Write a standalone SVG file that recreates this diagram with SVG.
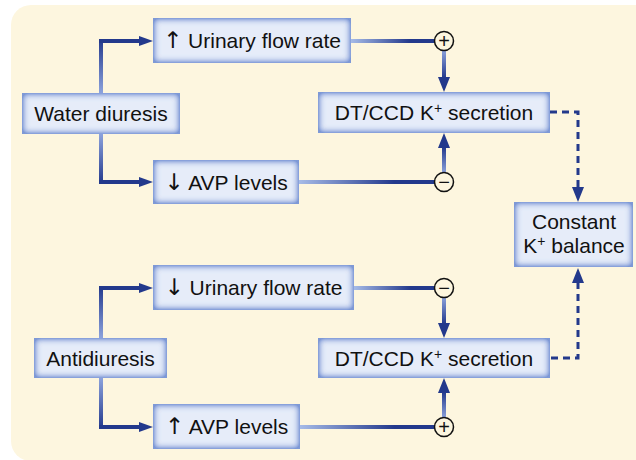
<svg xmlns="http://www.w3.org/2000/svg" width="636" height="460" viewBox="0 0 636 460">
<defs>
<style>
.box{fill:#E6ECF9;filter:url(#bevel);}
.lbl{font-family:"Liberation Sans",Arial,sans-serif;font-size:21px;fill:#111;text-anchor:middle;}
.arr{font-family:"DejaVu Sans","Liberation Sans",sans-serif;font-size:23px;}
.sym{font-family:"Liberation Sans",Arial,sans-serif;font-size:20px;fill:#111;text-anchor:middle;}
.navy{fill:#23398C;}
.circ{fill:#FDF6DF;stroke:#111;stroke-width:1.5;}
.dash{fill:none;stroke:#23398C;stroke-width:3;stroke-dasharray:7 5;}
</style>
<filter id="bevel" x="0" y="0" width="1" height="1" color-interpolation-filters="sRGB">
<feFlood flood-color="#7E99D6" result="c"/>
<feGaussianBlur in="SourceAlpha" stdDeviation="3.5" result="b"/>
<feComposite in="c" in2="b" operator="out" result="e"/>
<feComponentTransfer in="e" result="e2"><feFuncA type="linear" slope="2"/></feComponentTransfer>
<feComposite in="e2" in2="SourceAlpha" operator="in" result="ei"/>
<feMerge><feMergeNode in="SourceGraphic"/><feMergeNode in="ei"/></feMerge>
</filter>
<linearGradient id="gH" x1="0" y1="0" x2="1" y2="0">
<stop offset="0" stop-color="#A6BBE7"/><stop offset="0.7" stop-color="#23398C"/><stop offset="1" stop-color="#23398C"/>
</linearGradient>
<linearGradient id="gDown" x1="0" y1="0" x2="0" y2="1">
<stop offset="0" stop-color="#8CA2DC"/><stop offset="1" stop-color="#23398C"/>
</linearGradient>
<linearGradient id="gUp" x1="0" y1="0" x2="0" y2="1">
<stop offset="0" stop-color="#23398C"/><stop offset="1" stop-color="#8CA2DC"/>
</linearGradient>
</defs>
<path d="M31,5 H640 V461 H31 A20,20 0 0 1 11,441 V25 A20,20 0 0 1 31,5 Z" fill="#FDF6DF"/>
<g id="connectors">
<rect x="99" y="39" width="4" height="54" fill="url(#gUp)"/>
<rect x="99" y="39" width="40" height="4" class="navy"/>
<polygon points="139,36 153,41 139,46" class="navy"/>
<rect x="99" y="134" width="4" height="50" fill="url(#gDown)"/>
<rect x="99" y="180" width="40" height="4" class="navy"/>
<polygon points="139,177 153,182 139,187" class="navy"/>
<rect x="351" y="39" width="84" height="4" fill="url(#gH)"/>
<rect x="442" y="50" width="4" height="28" fill="url(#gDown)"/>
<polygon points="438,77 450,77 444,92" class="navy"/>
<rect x="299" y="180" width="136" height="4" fill="url(#gH)"/>
<rect x="442" y="147" width="4" height="26" fill="url(#gUp)"/>
<polygon points="438,148 450,148 444,133" class="navy"/>
<path d="M550,112 H578 V188" class="dash"/>
<polygon points="572,187 584,187 578,202" class="navy"/>
<rect x="99" y="286" width="4" height="52" fill="url(#gUp)"/>
<rect x="99" y="286" width="40" height="4" class="navy"/>
<polygon points="139,283 153,288 139,293" class="navy"/>
<rect x="99" y="378" width="4" height="51" fill="url(#gDown)"/>
<rect x="99" y="425" width="40" height="4" class="navy"/>
<polygon points="139,422 153,427 139,432" class="navy"/>
<rect x="354" y="286" width="81" height="4" fill="url(#gH)"/>
<rect x="442" y="297" width="4" height="27" fill="url(#gDown)"/>
<polygon points="438,323 450,323 444,338" class="navy"/>
<rect x="300" y="425" width="135" height="4" fill="url(#gH)"/>
<rect x="442" y="392" width="4" height="26" fill="url(#gUp)"/>
<polygon points="438,393 450,393 444,378" class="navy"/>
<path d="M551,358 H578 V283" class="dash"/>
<polygon points="572,283 584,283 578,268" class="navy"/>
</g>
<g id="sign-top-plus"><circle cx="444" cy="41" r="9.5" class="circ"/><text x="444" y="48" class="sym">+</text></g>
<g id="sign-top-minus"><circle cx="444" cy="182" r="9.5" class="circ"/><text x="444" y="189" class="sym">−</text></g>
<g id="sign-bot-minus"><circle cx="444" cy="288" r="9.5" class="circ"/><text x="444" y="295" class="sym">−</text></g>
<g id="sign-bot-plus"><circle cx="444" cy="427" r="9.5" class="circ"/><text x="444" y="434" class="sym">+</text></g>
<g id="water-diuresis"><rect x="22" y="93" width="158" height="41" class="box"/><text x="101" y="121" class="lbl">Water diuresis</text></g>
<g id="urinary-up"><rect x="153" y="18" width="198" height="45" class="box"/><text x="252" y="48" class="lbl"><tspan class="arr">↑</tspan> Urinary flow rate</text></g>
<g id="avp-down"><rect x="153" y="160" width="146" height="44" class="box"/><text x="226" y="189.5" class="lbl"><tspan class="arr">↓</tspan> AVP levels</text></g>
<g id="dtccd-top"><rect x="318" y="92" width="232" height="41" class="box"/><text x="434" y="120" class="lbl">DT/CCD K<tspan dy="-7" font-size="14">+</tspan><tspan dy="7"> secretion</tspan></text></g>
<g id="constant"><rect x="514" y="202" width="119" height="65" class="box"/><text x="574" y="229" class="lbl">Constant</text><text x="574" y="253" class="lbl">K<tspan dy="-7" font-size="14">+</tspan><tspan dy="7"> balance</tspan></text></g>
<g id="antidiuresis"><rect x="34" y="338" width="133" height="40" class="box"/><text x="100.5" y="365.5" class="lbl">Antidiuresis</text></g>
<g id="urinary-down"><rect x="153" y="265" width="201" height="45" class="box"/><text x="253.5" y="295" class="lbl"><tspan class="arr">↓</tspan> Urinary flow rate</text></g>
<g id="avp-up"><rect x="153" y="404" width="147" height="45" class="box"/><text x="226.5" y="434" class="lbl"><tspan class="arr">↑</tspan> AVP levels</text></g>
<g id="dtccd-bot"><rect x="318" y="338" width="232" height="40" class="box"/><text x="434" y="365.5" class="lbl">DT/CCD K<tspan dy="-7" font-size="14">+</tspan><tspan dy="7"> secretion</tspan></text></g>
</svg>
